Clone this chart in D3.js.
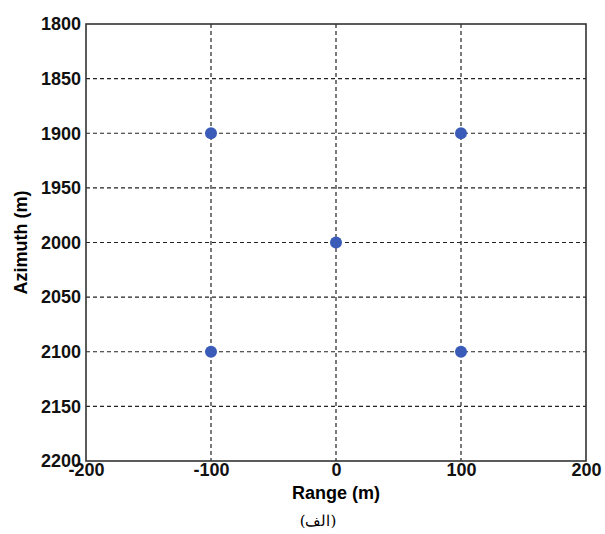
<!DOCTYPE html>
<html>
<head>
<meta charset="utf-8">
<script src="https://cdn.jsdelivr.net/npm/d3@7"></script>
<style>
  body { margin: 0; background: #fff; }
  .tick text { font-family: "Liberation Sans", Arial, sans-serif; font-weight: bold; font-size: 18px; fill: #111; }
  .grid line { stroke: #222; stroke-dasharray: 4,3; stroke-width: 1.2; }
</style>
</head>
<body>
<div id="chart"></div>
<script>
const rangeVals = [-100, 100, 0, -100, 100];
const azimuthVals = [1900, 1900, 2000, 2100, 2100];
const xTicks = [-200, -100, 0, 100, 200];
const yTicks = [1800, 1850, 1900, 1950, 2000, 2050, 2100, 2150, 2200];

const W = 605, H = 534;
const margin = {top: 24, right: 19, bottom: 73, left: 86};
const width = W - margin.left - margin.right;
const height = H - margin.top - margin.bottom;

const svg = d3.select("#chart").append("svg")
    .attr("width", W).attr("height", H)
    .append("g")
    .attr("transform", `translate(${margin.left},${margin.top})`);

const x = d3.scaleLinear().domain([-200, 200]).range([0, width]);
const y = d3.scaleLinear().domain([1800, 2200]).range([0, height]);
const fmt = d => String(d);

// grid
svg.append("g").attr("class", "grid")
    .selectAll("line").data(xTicks.slice(1, -1)).enter().append("line")
    .attr("x1", d => x(d)).attr("x2", d => x(d)).attr("y1", 0).attr("y2", height);
svg.append("g").attr("class", "grid")
    .selectAll("line").data(yTicks.slice(1, -1)).enter().append("line")
    .attr("y1", d => y(d)).attr("y2", d => y(d)).attr("x1", 0).attr("x2", width);

// axes
const xAxis = svg.append("g").attr("transform", `translate(0,${height})`)
    .call(d3.axisBottom(x).tickValues(xTicks).tickSize(0).tickPadding(2).tickFormat(fmt));
xAxis.select(".domain").remove();
const yAxis = svg.append("g")
    .call(d3.axisLeft(y).tickValues(yTicks).tickSize(0).tickPadding(5).tickFormat(fmt));
yAxis.select(".domain").remove();

svg.append("rect").attr("x", 0).attr("y", 0).attr("width", width).attr("height", height)
    .attr("fill", "none").attr("stroke", "#333").attr("stroke-width", 1.6);

// points
svg.selectAll(".pt").data(rangeVals).enter().append("circle")
    .attr("class", "pt")
    .attr("cx", d => x(d))
    .attr("cy", (d, i) => y(azimuthVals[i]))
    .attr("r", 6)
    .attr("fill", "#3a5bb8");

// labels
svg.append("text").attr("x", width / 2).attr("y", height + 38)
    .attr("text-anchor", "middle")
    .style("font-family", "Liberation Sans, Arial, sans-serif").style("font-weight", "bold").style("font-size", "18px")
    .text("Range (m)");
svg.append("text").attr("transform", `translate(${-59},${height / 2}) rotate(-90)`)
    .attr("text-anchor", "middle")
    .style("font-family", "Liberation Sans, Arial, sans-serif").style("font-weight", "bold").style("font-size", "18px")
    .text("Azimuth (m)");
svg.append("text").attr("x", width / 2 - 18).attr("y", height + 65)
    .attr("text-anchor", "middle").attr("direction", "rtl")
    .style("font-family", "DejaVu Serif, serif").style("font-size", "15px")
    .text("(الف)");
</script>
</body>
</html>
